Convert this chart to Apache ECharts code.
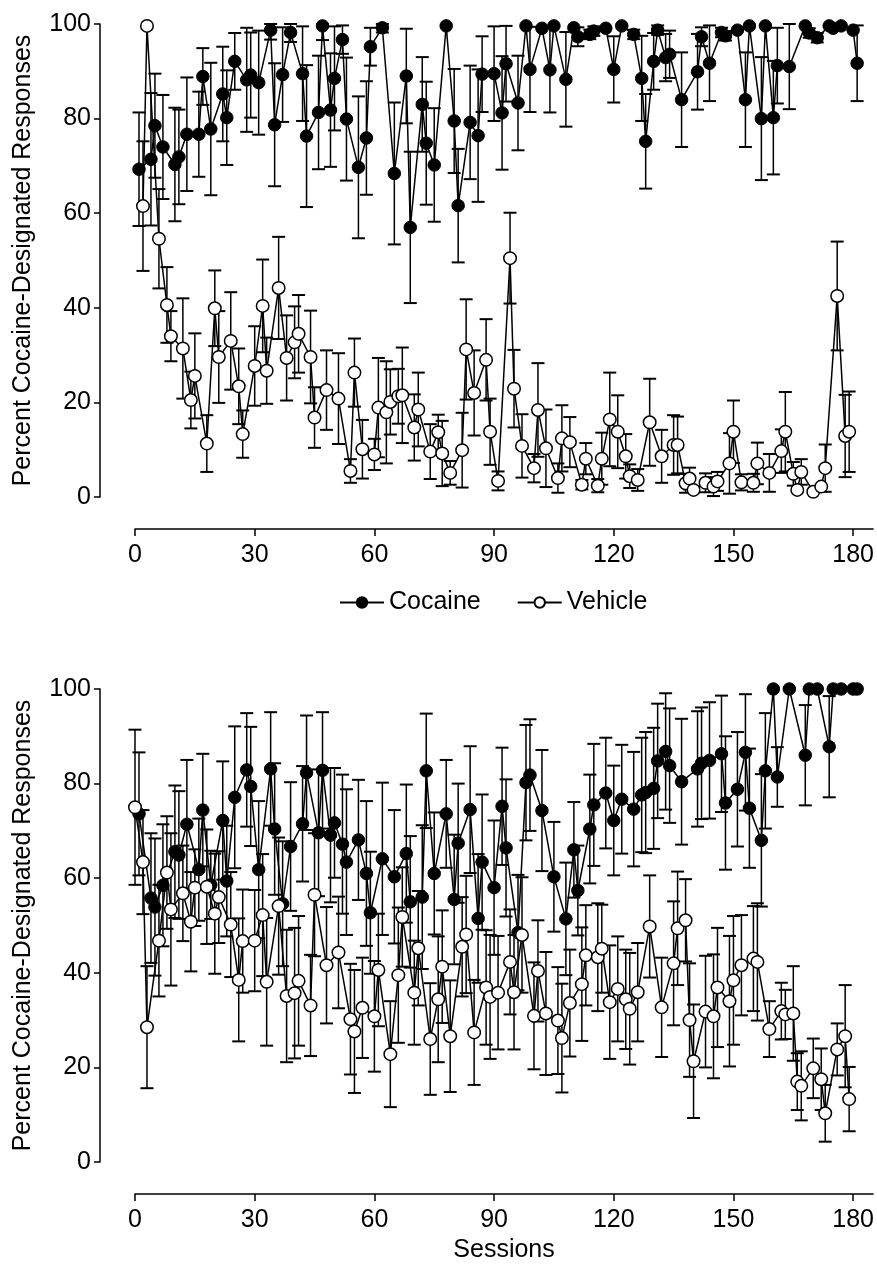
<!DOCTYPE html>
<html lang="en">
<head>
<meta charset="UTF-8"/>
<title>Percent Cocaine-Designated Responses</title>
<script src="https://cdn.jsdelivr.net/npm/echarts@6/dist/echarts.min.js"></script>
<style>
    html, body { margin: 0; padding: 0; background: #fff; }
    #chart { width: 877px; height: 1266px; }
</style>
</head>
<body>
<div id="chart"></div>
<script type="text/javascript">
// [session, percent, SEM]
var topCocaine = [[1,69.3,12],[4,71.4,14],[5,78.5,11],[7,74,11],[10,70.3,12],[11,71.9,10],[13,76.7,12],[16,76.7,9],[17,88.9,6],[19,77.8,14],[22,85.2,10],[23,80.2,10],[25,92.1,6],[28,88.2,11],[29,89.2,9],[31,87.6,11],[34,98.7,2],[35,78.7,13],[37,89.3,10],[39,98.2,2],[42,89.5,10],[43,76.3,15],[46,81.3,12],[47,99.6,3],[49,81.8,12],[50,88.5,11],[52,96.7,3],[53,79.9,13],[56,69.7,15],[58,75.9,12],[59,95.2,4],[62,99.2,1],[65,68.4,15],[68,89,10],[69,57,16],[72,83,10],[73,74.8,13],[75,70.2,12],[78,99.6,0],[80,79.5,11],[81,61.6,12],[84,79.2,12],[86,76.4,14],[87,89.4,8],[90,89.5,10],[92,81.2,12],[93,91.6,8],[96,83.3,10],[98,99.6,0],[99,90.4,9],[102,99.1,0],[104,90.3,9],[105,99.6,0],[108,88.3,10],[110,99.2,0],[111,97.3,2],[114,97.8,1],[115,98.5,1],[118,99.1,0],[120,90.4,7],[122,99.6,0],[125,97.8,1],[127,88.5,9],[128,75.2,10],[130,92.1,6],[131,98.7,1],[133,92.9,5],[134,93.6,5],[137,84,10],[141,89.9,8],[142,97.3,2],[144,91.7,8],[147,98.2,1],[148,97.5,1],[151,98.7,0],[153,84,10],[154,99.6,0],[157,80,13],[158,99.6,0],[160,80.2,12],[161,91.2,8],[164,91,9],[168,99.6,0],[169,98.1,1],[171,97.1,1],[174,99.6,0],[175,99.1,0],[177,99.6,0],[180,98.7,0],[181,91.7,8]];

var topVehicle = [[2,61.5,13.7],[3,99.6,0],[6,54.6,10.5],[8,40.6,8],[9,34,5.3],[12,31.4,10.6],[14,20.5,6],[15,25.6,9],[18,11.3,6],[20,39.9,8],[21,29.6,9.7],[24,33,10.3],[26,23.4,8],[27,13.3,5],[30,27.7,8.4],[32,40.4,9.8],[33,26.7,7],[36,44.2,10.8],[38,29.4,9],[40,32.7,7.6],[41,34.5,8.2],[44,29.6,9.8],[45,16.8,6.4],[48,22.6,8.4],[51,20.8,9.6],[54,5.5,2.5],[55,26.3,7.2],[57,10.1,6.2],[60,9,3.3],[61,18.9,10.5],[63,17.9,10.8],[64,20.1,6.9],[66,21.3,5.8],[67,21.5,10.1],[70,14.7,7],[71,18.5,7.8],[74,9.6,5.8],[76,13.7,3.7],[77,9.2,6.9],[79,5.1,2.5],[82,9.9,7.9],[83,31.2,10.6],[85,22,9],[88,29,8.6],[89,13.8,7],[91,3.4,2],[94,50.5,9.6],[95,22.9,8.2],[97,10.8,6.7],[100,6.1,3],[101,18.4,9.9],[103,10.3,8.2],[106,4,3.1],[107,12.4,7],[109,11.6,5.3],[112,2.6,1],[113,8.1,3.3],[116,2.4,1.4],[117,8.1,5.5],[119,16.4,9.9],[121,13.8,7.7],[123,8.6,4.7],[124,4.4,2.5],[126,3.6,2.3],[129,15.8,9.2],[132,8.6,5.6],[135,11,6.3],[136,11,6],[138,2.9,2],[139,3.9,2.3],[140,1.5,0],[143,3,2],[145,2.2,2],[146,3.3,2],[149,7.1,6.4],[150,13.8,6.6],[152,3.1,1.7],[155,3,1.9],[156,7.1,4.4],[159,5.1,4],[162,9.7,4.6],[163,13.8,8.4],[165,4.9,2.5],[166,1.5,0],[167,5.3,2.7],[170,1.1,0],[172,2.2,0],[173,6.1,5],[176,42.5,11.5],[178,12.9,8.7],[179,13.8,8.5]];

var bottomCocaine = [[1,73.6,13],[4,55.8,13.7],[5,53.9,14.5],[7,58.5,12.9],[10,65.6,14],[11,64.9,13.5],[13,71.4,13.6],[16,61.8,10.8],[17,74.4,11.9],[19,58.6,7.2],[22,72.2,12.5],[23,59.4,11.7],[25,77.1,15],[28,82.9,12],[29,79.4,12.6],[31,61.8,14.5],[34,83.1,12],[35,70.4,13.9],[37,54.6,13.2],[39,66.7,13.6],[42,71.5,12.2],[43,82.3,12.1],[46,69.6,13.4],[47,82.8,12.3],[49,69.1,14.2],[50,71.7,11.6],[52,67.2,14.7],[53,63.4,15.4],[56,68.1,12.7],[58,61,15.3],[59,52.7,12.9],[62,64.1,16.1],[65,60.3,14.1],[68,65.2,14.6],[69,55,13.9],[72,56,15.2],[73,82.7,12.1],[75,61,12.9],[78,73.6,11.4],[80,55.5,13.7],[81,67.4,12.6],[84,74.5,13.4],[86,51.5,13.6],[87,63.4,14.3],[90,58,14.2],[92,75.2,12.4],[93,66.4,14.5],[96,48.5,12.2],[98,80.2,12.2],[99,81.8,11.8],[102,74.3,12.8],[105,60.3,11.6],[108,51.4,11.9],[110,66,10.1],[111,57.4,9.5],[114,70.4,11.5],[115,75.5,12.9],[118,78,11.7],[120,72.2,11.6],[122,76.7,11.5],[125,74.6,12.1],[127,77.6,12.1],[128,78.1,12.8],[130,79,12.8],[131,84.8,12.1],[133,86.8,12.3],[134,83.8,12.1],[137,80.4,13.3],[141,83.1,12.2],[142,84.3,11.8],[144,84.9,12.3],[147,86.3,12.3],[148,75.9,14.1],[151,78.8,12.1],[153,86.6,12.3],[154,74.8,12.6],[157,68,14],[158,82.7,12.2],[160,100,0],[161,81.4,6.3],[164,100,0],[168,86,10.6],[169,100,0],[171,100,0],[174,87.8,10.7],[175,100,0],[177,100,0],[180,100,0],[181,100,0]];

var bottomVehicle = [[0,75,16.4],[2,63.4,11],[3,28.5,12.9],[6,46.8,11.8],[8,61.2,11.9],[9,53.4,16.1],[12,56.8,10.1],[14,50.8,10.5],[15,58,8.1],[18,58.2,12.1],[20,52.5,12.7],[21,56,9.7],[24,50.2,11.1],[26,38.5,13],[27,46.7,10.9],[30,46.8,10.7],[32,52.2,12.9],[33,38.1,13.5],[36,54.1,14.5],[38,35.1,14],[40,35.7,13.8],[41,38.3,13.7],[44,33.1,10.7],[45,56.5,13],[48,41.6,12.3],[51,44.3,11.8],[54,30.2,11.7],[55,27.6,13],[57,32.6,10.6],[60,30.8,11.7],[61,40.6,11.9],[64,22.8,11.2],[66,39.5,14.3],[67,51.8,10.5],[70,35.8,11],[71,45.2,12.1],[74,26,11.8],[76,34.4,13.3],[77,41.3,11.9],[79,26.6,11.8],[82,45.5,10.5],[83,48.1,12.4],[85,27.4,11.1],[88,36.9,12.1],[89,34.9,13.1],[91,35.8,12],[94,42.3,11.1],[95,35.9,12.1],[97,48,12.2],[100,30.9,11.3],[101,40.4,10.7],[103,31.4,13],[106,29.9,11.3],[107,26.2,11.5],[109,33.6,11.3],[112,37.6,12],[113,43.7,10.6],[116,43.3,11.4],[117,45.1,9.3],[119,33.8,12],[121,36.6,11.1],[123,34.4,10.5],[124,32.4,11.8],[126,35.9,10.4],[129,49.8,10.8],[132,32.7,10.5],[135,42,13.1],[136,49.4,12],[138,51.1,8.7],[139,30,12],[140,21.3,12],[143,31.8,11.8],[145,30.8,13.1],[146,36.9,12.6],[149,34,13.8],[150,38.4,13.6],[152,41.6,10.6],[155,43,11.1],[156,42.3,12.4],[159,28.1,5.9],[162,31.9,6],[163,31.2,5.2],[165,31.4,10],[166,17,6],[167,16.1,7.3],[170,19.8,6.3],[172,17.5,6.5],[173,10.3,6],[176,23.8,5.5],[178,26.6,10.8],[179,13.3,6.8]];

var xTicks = [0, 30, 60, 90, 120, 150, 180];
var seriesNames = ['Cocaine', 'Vehicle'];

var FONT = "'Liberation Sans', Arial, sans-serif";

function points(rows) {
    return rows.map(function (r) { return [r[0], r[1]]; });
}

// SEM bars, clamped to the 0-100 axis range
function errorBar(params, api) {
    var x = api.value(0), y = api.value(1), e = api.value(2);
    if (!e) { return; }
    var hi = api.coord([x, Math.min(100, y + e)]);
    var lo = api.coord([x, Math.max(0, y - e)]);
    var w = 6.5;
    return {
        type: 'group',
        children: [
            {type: 'line', shape: {x1: hi[0], y1: hi[1], x2: lo[0], y2: lo[1]}, style: {stroke: '#000', lineWidth: 1.5}},
            {type: 'line', shape: {x1: hi[0] - w, y1: hi[1], x2: hi[0] + w, y2: hi[1]}, style: {stroke: '#000', lineWidth: 2}},
            {type: 'line', shape: {x1: lo[0] - w, y1: lo[1], x2: lo[0] + w, y2: lo[1]}, style: {stroke: '#000', lineWidth: 2}}
        ]
    };
}

function xAxisFor(gridIndex, name) {
    return {
        gridIndex: gridIndex,
        type: 'value',
        min: 0,
        max: 185,
        offset: 32,
        name: name,
        nameLocation: 'middle',
        nameGap: 44,
        nameTextStyle: {fontSize: 25, color: '#000', fontFamily: FONT},
        splitLine: {show: false},
        axisLine: {onZero: false, lineStyle: {color: '#000', width: 1.5}},
        axisTick: {length: 7, lineStyle: {color: '#000', width: 1.5}, customValues: xTicks},
        axisLabel: {fontSize: 25, color: '#000', fontFamily: FONT, margin: 14, customValues: xTicks}
    };
}

function yAxisFor(gridIndex) {
    return {
        gridIndex: gridIndex,
        type: 'value',
        min: 0,
        max: 100,
        interval: 20,
        offset: 35,
        name: 'Percent Cocaine-Designated Responses',
        nameLocation: 'middle',
        nameGap: 64,
        nameTextStyle: {fontSize: 25, color: '#000', fontFamily: FONT},
        splitLine: {show: false},
        axisLine: {show: true, onZero: false, lineStyle: {color: '#000', width: 1.5}},
        axisTick: {show: true, length: 6, lineStyle: {color: '#000', width: 1.5}},
        axisLabel: {fontSize: 25, color: '#000', fontFamily: FONT, margin: 9}
    };
}

function lineSeries(name, rows, idx, open) {
    return {
        name: name,
        type: 'line',
        xAxisIndex: idx,
        yAxisIndex: idx,
        data: points(rows),
        symbol: 'circle',
        symbolSize: 12.5,
        showAllSymbol: true,
        clip: false,
        z: open ? 4 : 3,
        lineStyle: {color: '#000', width: 1.5},
        itemStyle: open ? {color: '#fff', borderColor: '#000', borderWidth: 1.5}
                        : {color: '#000', borderColor: '#000', borderWidth: 1}
    };
}

function barSeries(rows, idx) {
    return {
        type: 'custom',
        xAxisIndex: idx,
        yAxisIndex: idx,
        data: rows,
        renderItem: errorBar,
        clip: false,
        silent: true,
        z: 2
    };
}

var myChart = echarts.init(document.getElementById('chart'), null, {renderer: 'canvas'});

var option = {
    animation: false,
    backgroundColor: '#fff',
    textStyle: {fontFamily: FONT},
    legend: {
        data: seriesNames,
        left: 334,
        top: 585,
        itemWidth: 44,
        itemHeight: 13,
        itemGap: 36,
        textStyle: {fontSize: 25, color: '#000', fontFamily: FONT}
    },
    grid: [
        {left: 135, right: 1, top: 24, height: 473},
        {left: 135, right: 1, top: 689, height: 473}
    ],
    xAxis: [xAxisFor(0, ''), xAxisFor(1, 'Sessions')],
    yAxis: [yAxisFor(0), yAxisFor(1)],
    series: [
        barSeries(topCocaine, 0),
        barSeries(topVehicle, 0),
        barSeries(bottomCocaine, 1),
        barSeries(bottomVehicle, 1),
        lineSeries('Cocaine', topCocaine, 0, false),
        lineSeries('Vehicle', topVehicle, 0, true),
        lineSeries('Cocaine', bottomCocaine, 1, false),
        lineSeries('Vehicle', bottomVehicle, 1, true)
    ]
};

myChart.setOption(option);
</script>
</body>
</html>
